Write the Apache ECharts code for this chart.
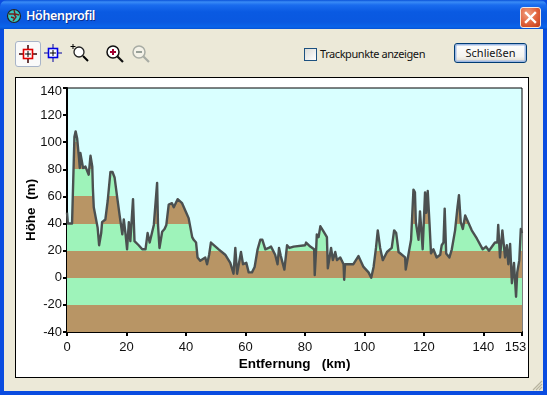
<!DOCTYPE html>
<html><head><meta charset="utf-8"><title>Höhenprofil</title>
<script src="https://cdn.jsdelivr.net/npm/echarts@6/dist/echarts.min.js"></script>
<style>
html,body{margin:0;padding:0;background:#fff}
#win{position:relative;width:547px;height:395px;overflow:hidden;background:#0a4ce0;font-family:"Liberation Sans",Arial,sans-serif}
#title{position:absolute;left:0;top:0;width:547px;height:30px;border-radius:7px 7px 0 0;background:linear-gradient(#0a52d8 0,#3a8cf6 2px,#1a6cee 5px,#0a5ae2 12px,#0a58e0 22px,#0a64ea 27px,#0448c8 30px)}
#ttext{position:absolute;left:26px;top:7px;color:#fff;font:600 12.5px "Noto Sans",sans-serif;letter-spacing:-.35px;text-shadow:1px 1px 0 #0a2f90}
#close{position:absolute;left:520px;top:7px;width:19px;height:19px;border:1px solid #f4e8e0;border-radius:3px;background:radial-gradient(circle at 35% 30%,#f0a080,#e0603a 55%,#c03a18)}
#client{position:absolute;left:4px;top:29px;width:539px;height:362px;background:#ece9d8}
#tb1{position:absolute;left:15px;top:41px;width:24px;height:24px;border:1px solid #a8b4c8;border-radius:3px;background:#fafafa}
.ic{position:absolute}
#chk{position:absolute;left:304px;top:48px;width:11px;height:11px;border:1px solid #1c5180;background:linear-gradient(135deg,#dcdcd7,#fff)}
#lbl{position:absolute;left:320px;top:47px;font:11px "Noto Sans",Tahoma,sans-serif;color:#111;letter-spacing:-.42px;line-height:14px}
#btn{position:absolute;left:454px;top:43px;width:71px;height:18px;border:1px solid #003c74;border-radius:3px;box-shadow:inset 0 0 0 1.5px #9db8e4;background:linear-gradient(#fff,#f4f3ee 70%,#dcd8cc);font:11px/18px "Noto Sans",Tahoma,sans-serif;text-align:center;color:#111}
#box{position:absolute;left:15px;top:77px;width:512px;height:299px;border:1px solid #000;background:#fff}
#chart{position:absolute;left:0;top:0;width:512px;height:299px}
#grip{position:absolute;left:532px;top:380px}
</style></head><body>
<div id="win">
 <div id="title"></div>
 <svg class="ic" style="left:6px;top:8px" width="16" height="16" viewBox="0 0 16 16"><circle cx="8" cy="8" r="6.5" fill="#38c8c0" stroke="#222" stroke-width="1.2"/><path d="M3 6h5l2 3-3 4M8 2l1 4 4 1M5 9l3 1" fill="none" stroke="#702020" stroke-width="1.4"/></svg>
 <div id="ttext">Höhenprofil</div>
 <div id="close"><svg width="19" height="19" viewBox="0 0 19 19"><path d="M5 5l9 9M14 5l-9 9" stroke="#fff" stroke-width="2.4" stroke-linecap="square"/></svg></div>
 <div id="client"></div>
 <div id="tb1"></div>
 <svg class="ic" style="left:18px;top:44px" width="20" height="20" viewBox="0 0 20 20"><path d="M10 1v18M1 10h18" stroke="#b00000" stroke-width="1"/><path d="M10 1v4M10 15v4M1 10h4M15 10h4" stroke="#000" stroke-width="1"/><rect x="5.5" y="5.5" width="9" height="9" fill="#fff" stroke="#e00000" stroke-width="1.6"/><path d="M10 7v6M7 10h6" stroke="#000"/></svg>
 <svg class="ic" style="left:43px;top:43px" width="20" height="20" viewBox="0 0 20 20"><path d="M10 1v18M1 10h18" stroke="#0000a0" stroke-width="1"/><rect x="5.5" y="5.5" width="9" height="9" fill="#fff" stroke="#0000e0" stroke-width="1.6"/><path d="M10 7v6M7 10h6" stroke="#000"/></svg>
 <svg class="ic" style="left:70px;top:43px" width="20" height="20" viewBox="0 0 20 20"><path d="M3 1v5M.5 3.500h5" stroke="#000"/><circle cx="9" cy="9" r="5" fill="#fff" stroke="#222" stroke-width="1.300"/><path d="M13 13l5 5" stroke="#000" stroke-width="2"/></svg>
 <svg class="ic" style="left:105px;top:44px" width="20" height="20" viewBox="0 0 20 20"><circle cx="8" cy="8" r="6" fill="#fff" stroke="#111" stroke-width="1.500"/><path d="M5 8h6M8 5v6" stroke="#a00030" stroke-width="2"/><path d="M12.500 12.500l5.500 5.500" stroke="#111" stroke-width="2.200"/></svg>
 <svg class="ic" style="left:131px;top:44px" width="20" height="20" viewBox="0 0 20 20"><circle cx="8" cy="8" r="6" fill="#f4f2e8" stroke="#a8aca4" stroke-width="1.500"/><path d="M5 8h6" stroke="#98a098" stroke-width="2"/><path d="M12.500 12.500l5.500 5.500" stroke="#a8aca4" stroke-width="2.200"/></svg>
 <div id="chk"></div>
 <div id="lbl">Trackpunkte anzeigen</div>
 <div id="btn">Schließen</div>
 <div id="box"><div id="chart"></div></div>
 <svg id="grip" width="11" height="11" viewBox="0 0 11 11"><path d="M10 1L1 10M10 4L4 10M10 7L7 10" stroke="#b8b4a0" stroke-width="1.200"/></svg>
</div>
<script>
const distanceKm = [0,0.3,1.7,2.5,2.9,3.4,4.0,4.3,4.5,5.4,6.2,7.3,7.9,8.5,8.7,9.0,10.3,10.8,11.5,11.8,12.9,13.7,14.6,15.3,16,16.9,17.7,18.6,19.1,19.7,20.2,20.8,21.3,22.2,22.7,24.1,25.3,26.4,27.1,27.8,28.4,29.2,29.7,30.3,30.6,31.1,32,32.8,33.4,34.2,35.3,35.9,37.2,38.7,40.1,40.9,42.1,42.6,43.4,43.9,44.8,46.5,47.1,47.8,48.4,51,53.2,54.9,56,56.6,57.2,58.5,59.2,60.3,61.1,62.2,63.1,64.1,65,65.7,66.7,67.8,68.6,70,70.8,71.3,71.9,72.5,73.1,74,74.8,76.2,76.8,80.1,80.4,81.8,83.1,83.3,83.8,84,84.6,85.2,86.3,87.4,87.7,88.8,89.4,90.2,90.8,91.9,93,93.2,93.5,96.3,98,99.7,101.4,102.3,103.1,103.9,104.5,105,105.3,106.2,107.6,109.2,110,110.7,111.5,113.7,113.9,114.8,115.7,116.5,117,117.3,118.2,118.7,119.2,119.6,120.4,120.8,121.3,121.9,122.4,123.2,124.3,125.5,126,126.6,127,127.5,128.6,129.4,130.5,131.3,131.8,132.4,133.1,133.9,136.1,137.8,139.8,140.9,141.9,143.9,144.7,145,145.6,146.4,147.3,147.9,148.4,149,149.6,150.3,151,151.4,152.1,152.6,153];
const heightM = [48,40,40,104,108,103,89,81,92,81,82,76,90,82,66,52,37,24,33,41,43,57,78,78,74,59,46,32,43,32,21,41,27,58,27,24,21,21,33,26,27,39,39,70,39,22,34,36,39,54,55,52,58,55,48,44,30,28,26,15,12.5,15,10,17,26,21,17,11,3,22,3,19,10,11,4,4,8,21,28,28,21,22,23,17,10,22,16,11,6,24,22,23,24,24,26,23,21,2,22,32,30,38,34,30,7,22,13,19,13,15,10,-1.5,10,10,16,8,4,0,8,22,35,35,22,13,19,22,35,33,19,15,6,17,28,65,63,41,28,49,49,21,63,48,64,40,18,21,15,17,24,26,51,18,15,21,35,52,61,41,36,46,35,29,21,23,20,26,26,39,15,35,15,24,10,25,-4,11,-14,4,13,36,33];
const yBandEdges = [-40,-20,0,20,40,60,80,100,120,140];
const xTickValues = [0,20,40,60,80,100,120,140,153];
const bandBrown = '#b89565', bandGreen = '#9ef3ba';

const profile = distanceKm.map((d, i) => [d, heightM[i]]);
const pieces = yBandEdges.slice(0, -1).map((lo, i) => ({
  gte: lo, lt: yBandEdges[i + 1], color: i % 2 === 0 ? bandBrown : bandGreen
}));
const labelStyle = {color: '#111', fontFamily: '"Liberation Sans",Arial,sans-serif', fontSize: 13};
const nameStyle = {color: '#000', fontFamily: '"Liberation Sans",Arial,sans-serif', fontSize: 13.5, fontWeight: 'bold'};
const chart = echarts.init(document.getElementById('chart'), null, {renderer: 'canvas'});
chart.setOption({
  animation: false,
  backgroundColor: '#fff',
  grid: {left: 51, right: 6, top: 10, bottom: 45, outerBoundsMode: 'none', containLabel: false, show: true, backgroundColor: '#d9ffff', borderColor: '#000', borderWidth: 1},
  visualMap: {show: false, type: 'piecewise', seriesIndex: 0, dimension: 1, pieces: pieces},
  xAxis: {
    type: 'value', min: 0, max: 153,
    name: 'Entfernung   (km)', nameLocation: 'middle', nameGap: 25, nameMoveOverlap: false, nameTextStyle: nameStyle,
    splitLine: {show: false},
    axisLine: {onZero: false, lineStyle: {color: '#000', width: 2}},
    axisTick: {length: 4, customValues: xTickValues, lineStyle: {color: '#000', width: 2}},
    axisLabel: Object.assign({
      customValues: xTickValues, margin: 9, showMinLabel: true, showMaxLabel: true, hideOverlap: false,
      formatter: v => v === 153 ? '{end|153}' : String(v),
      rich: {end: Object.assign({padding: [0, 13, 0, 0]}, labelStyle)}
    }, labelStyle)
  },
  yAxis: {
    type: 'value', min: -40, max: 140, interval: 20,
    name: 'Höhe  (m)', nameLocation: 'middle', nameGap: 29, nameMoveOverlap: false, nameRotate: 90, nameTextStyle: nameStyle,
    splitLine: {show: false},
    axisLine: {onZero: false, lineStyle: {color: '#000', width: 2}},
    axisTick: {length: 4, lineStyle: {color: '#000', width: 2}},
    axisLabel: Object.assign({
      margin: 5, showMinLabel: true, showMaxLabel: true,
      formatter: v => v === 140 ? '{top|140}' : String(v),
      rich: {top: Object.assign({padding: [6, 0, 0, 0]}, labelStyle)}
    }, labelStyle)
  },
  series: [
    {type: 'line', data: profile, symbol: 'none', lineStyle: {width: 0}, areaStyle: {opacity: 1, origin: 'start'}, z: 1},
    {type: 'line', data: profile, symbol: 'none', lineStyle: {width: 2.4, color: '#4b5050', join: 'round'}, itemStyle: {color: '#4b5050'}, z: 2}
  ]
});
</script>
</body></html>
